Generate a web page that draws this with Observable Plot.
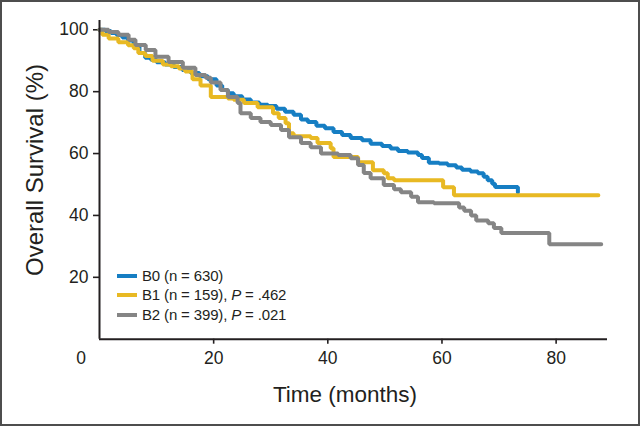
<!DOCTYPE html>
<html>
<head>
<meta charset="utf-8">
<script src="https://cdn.jsdelivr.net/npm/d3@7"></script>
<script src="https://cdn.jsdelivr.net/npm/@observablehq/plot@0.6"></script>
<style>
  body { margin: 0; background: #fff; }
  #wrap { position: relative; width: 640px; height: 426px; overflow: hidden; background: #fff;
          font-family: "Liberation Sans", Arial, Helvetica, sans-serif; color: #231f20; }
  #chart { position: absolute; left: 0; top: 0; }
  #frame { position: absolute; left: 0; top: 0; width: 640px; height: 426px; box-sizing: border-box;
           border: 2px solid #4d4d4d; pointer-events: none; }
  .title { position: absolute; white-space: nowrap; transform-origin: center center; line-height: 1.15; }
  #ytitle { left: 34.5px; top: 170px; font-size: 24px; transform: translate(-50%, -50%) rotate(-90deg); }
  #xtitle { left: 345px; top: 395px; font-size: 22.5px; transform: translate(-50%, -50%); }
  .sw { position: absolute; left: 117px; width: 20px; height: 4px; }
  .lt { position: absolute; left: 142px; font-size: 15px; line-height: 18px; white-space: nowrap; letter-spacing: -0.15px; }
</style>
</head>
<body>
<div id="wrap">
  <div id="chart"></div>
  <div id="ytitle" class="title"></div>
  <div id="xtitle" class="title"></div>
  <div id="legend"></div>
  <div id="frame"></div>
</div>
<script>
// ---- data ----
const seriesNames = ["B0", "B1", "B2"];
const seriesColors = ["#167ec3", "#e8b923", "#858585"];
const legendLabels = [
  ["B0 (n = 630)", null],
  ["B1 (n = 159), ", ".462"],
  ["B2 (n = 399), ", ".021"]
];

const b0Time = [0, 1, 2, 3, 4, 5, 6, 7, 8, 9, 10, 11.5, 13, 14.5, 16, 17.5, 19, 20.5, 21.5, 22.5, 23.5, 25, 26.5, 28, 29.5, 31, 32.5, 34, 35.3, 36.5, 38, 39.5, 41, 42.5, 44, 46, 47.5, 49.5, 51, 52.3, 54, 55.8, 56.5, 57.7, 59.5, 61, 62.5, 63.5, 65, 66.3, 67.3, 68, 68.8, 69.3, 73.3];
const b0Surv = [100, 99.6, 99, 98.3, 97.5, 96.5, 94.5, 92.5, 91, 90.3, 89.5, 88.8, 88, 87, 86, 85, 84, 82, 80.5, 79.5, 78.5, 77.5, 76.5, 75.8, 75.4, 74.5, 73.5, 72.5, 71, 70.2, 69, 68.2, 67, 66, 65, 64.3, 63.2, 62.4, 61.6, 60.8, 60.3, 59.5, 58.6, 57, 56.8, 56.2, 55.5, 54.8, 54.2, 53.6, 52.5, 51.4, 50.2, 49.2, 47.5];

const b1Time = [0, 0.5, 1.6, 3.3, 5, 6, 6.8, 8, 9.3, 11.1, 12.5, 13.9, 15, 16.3, 17.7, 19.5, 22.5, 23.5, 25.3, 27.7, 30.4, 31.4, 32.6, 33.2, 34, 37, 38.2, 40.5, 41, 45.3, 47.9, 49.8, 50.5, 51.6, 60.2, 62.1, 87.4];
const b1Surv = [100, 98.4, 97.2, 96, 95, 94, 92.5, 91.5, 90, 88.8, 88.2, 87.5, 86.5, 84, 82, 78.3, 77.8, 77.4, 76.3, 75, 73, 71.5, 69.8, 66.6, 65.6, 65, 63.4, 61.7, 58.9, 57.2, 54.6, 53.6, 52, 51.4, 49.1, 46.5, 46.5];

const b2Time = [0, 1.6, 3.3, 5.1, 6.3, 8.1, 9.8, 12.1, 14.6, 16.8, 18.6, 19.5, 21.2, 22.5, 24.2, 24.7, 26.5, 28.2, 30, 31.8, 33.2, 35.3, 37, 38.8, 41.8, 44, 45.3, 46.3, 47.5, 49.8, 51.6, 52.8, 54.6, 55.8, 58.6, 63, 63.9, 65.1, 66, 68.1, 69.1, 70.4, 78.8, 87.9];
const b2Surv = [100, 99.3, 98.4, 96.8, 95.1, 93.5, 91.3, 89.6, 87.7, 85.4, 84.5, 83, 80.5, 78.3, 76.3, 73, 71.5, 70.2, 69.2, 67.6, 65.3, 63.4, 62, 60, 59.5, 58.5, 56.3, 53.7, 52, 49.8, 48.5, 47.5, 46, 44.3, 43.9, 42.6, 41.5, 40, 38.4, 37.5, 35.9, 34.3, 30.7, 30.7];

const xTicks = [20, 40, 60, 80];
const yTicks = [20, 40, 60, 80, 100];
const originLabel = [0];
const xTitle = "Time (months)";
const yTitle = "Overall Survival (%)";

// ---- build table ----
const times = [b0Time, b1Time, b2Time];
const survs = [b0Surv, b1Surv, b2Surv];
const rows = [];
seriesNames.forEach((name, i) => {
  times[i].forEach((t, j) => rows.push({series: name, t, s: survs[i][j]}));
});

const ink = "#231f20";
const plot = Plot.plot({
  width: 640,
  height: 426,
  marginLeft: 99,
  marginRight: 33,
  marginTop: 20,
  marginBottom: 87.3,
  style: {fontFamily: '"Liberation Sans", Arial, Helvetica, sans-serif', fontSize: "17.5px", color: ink, background: "transparent"},
  x: {domain: [0, 89]},
  y: {domain: [0, 103]},
  color: {domain: seriesNames, range: seriesColors},
  marks: [
    Plot.axisY({ticks: yTicks, tickSize: 6, tickPadding: 5, label: null, stroke: ink, strokeWidth: 1.6, fill: ink}),
    Plot.axisX({ticks: xTicks, tickSize: 5, tickPadding: 7, label: null, stroke: ink, strokeWidth: 1.6, fill: ink}),
    Plot.text(originLabel, {x: d => d, y: d => d, text: d => String(d), dx: -18.5, dy: 19.5, fill: ink}),
    Plot.line(rows, {x: "t", y: "s", z: "series", stroke: "series", curve: "step-after", strokeWidth: 4, strokeLinejoin: "miter"}),
    Plot.ruleX([0], {stroke: ink, strokeWidth: 2}),
    Plot.ruleY([0], {stroke: ink, strokeWidth: 2})
  ]
});
document.getElementById("chart").appendChild(plot);

document.getElementById("xtitle").textContent = xTitle;
document.getElementById("ytitle").textContent = yTitle;

// legend
const legend = document.getElementById("legend");
const rowCenters = [276, 295.3, 315];
legendLabels.forEach(([label, p], i) => {
  const sw = document.createElement("div");
  sw.className = "sw";
  sw.style.top = (rowCenters[i] - 2) + "px";
  sw.style.background = seriesColors[i];
  legend.appendChild(sw);
  const tx = document.createElement("div");
  tx.className = "lt";
  tx.style.top = (rowCenters[i] - 9.5) + "px";
  tx.appendChild(document.createTextNode(label));
  if (p) {
    const it = document.createElement("i");
    it.textContent = "P";
    tx.appendChild(it);
    tx.appendChild(document.createTextNode(" = " + p));
  }
  legend.appendChild(tx);
});
</script>
</body>
</html>
